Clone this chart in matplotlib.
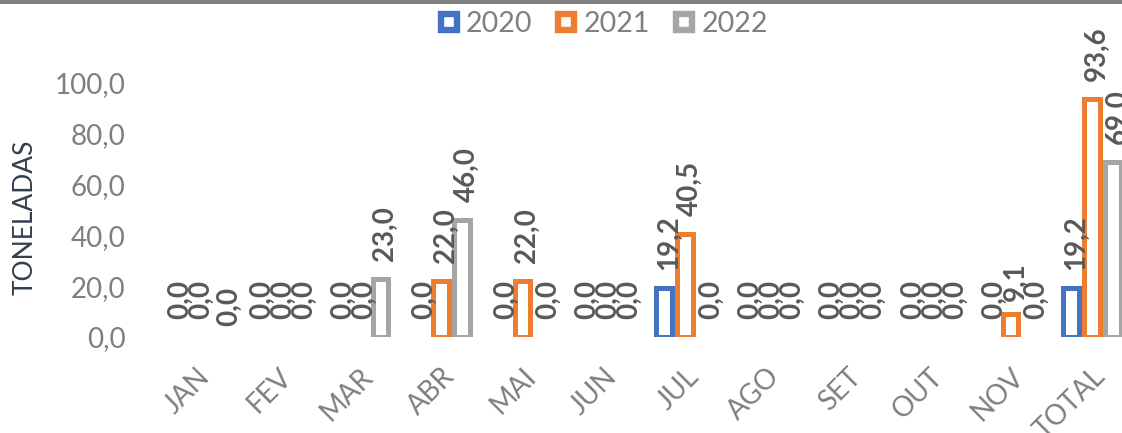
import matplotlib
matplotlib.use("Agg")
import matplotlib.pyplot as plt
from matplotlib.lines import Line2D
from matplotlib.patches import Rectangle
from matplotlib.ticker import FuncFormatter
import numpy as np

plt.rcParams['font.family'] = ['Lato', 'DejaVu Sans']

# data (tonnes per month)
months = ['JAN', 'FEV', 'MAR', 'ABR', 'MAI', 'JUN', 'JUL', 'AGO', 'SET', 'OUT', 'NOV', 'TOTAL']
years = ['2020', '2021', '2022']
t2020 = [0, 0, 0, 0, 0, 0, 19.2, 0, 0, 0, 0, 19.2]
t2021 = [0, 0, 0, 22.0, 22.0, 0, 40.5, 0, 0, 0, 9.1, 93.6]
t2022 = [0, 0, 23.0, 46.0, 0, 0, 0, 0, 0, 0, 0, 69.0]
yticks = [0, 20, 40, 60, 80, 100]

colors = ['#4472C4', '#ED7D31', '#A5A5A5']
label_col = '#595959'
tick_col = '#7F7F7F'

def fmt(v):
    return f"{v:.1f}".replace('.', ',')

fig = plt.figure(figsize=(11.22, 4.33), dpi=100)
ax = fig.add_axes([156 / 1122, 96 / 433, 966 / 1122, 254 / 433])

x = np.arange(len(months))
pitch = 0.258
bw = 0.19
series = [t2020, t2021, t2022]

# Excel moved a couple of overlapping labels a bit (points)
nudge = {(0, 2): (5, -5), (10, 1): (0, -4)}

for i, vals in enumerate(series):
    off = (i - 1) * pitch
    # zero-height bars get no outline, like in Excel
    edges = [colors[i] if v > 0 else 'none' for v in vals]
    ax.bar(x + off, vals, bw, facecolor='white', edgecolor=edges,
           linewidth=3.6, zorder=2)
    for j, v in enumerate(vals):
        dx, dy = nudge.get((j, i), (0, 0))
        ax.annotate(fmt(v), xy=(x[j] + off, v), xytext=(1.5 + dx, 13 + dy),
                    textcoords='offset points', rotation=90, rotation_mode='anchor',
                    ha='left', va='center_baseline', fontsize=20, fontweight='bold',
                    color=label_col, annotation_clip=False)

ax.set_xlim(-0.5, -0.5 + 966 / 81.4)
ax.set_ylim(0, 100)
ax.set_yticks(yticks)
ax.yaxis.set_major_formatter(FuncFormatter(lambda v, p: fmt(v)))
ax.set_xticks(x)
ax.set_xticklabels(months)
for s in ax.spines.values():
    s.set_visible(False)
ax.tick_params(axis='y', length=0, pad=22, labelsize=20, labelcolor=tick_col)
ax.tick_params(axis='x', length=0, pad=19, labelsize=20, labelcolor=tick_col)

for lbl in ax.get_xticklabels():
    lbl.set_rotation(45)
    lbl.set_rotation_mode('anchor')
    lbl.set_ha('right')
    lbl.set_va('top')

fig.text(25 / 1122, 1 - 217 / 433, 'TONELADAS', rotation=90, ha='center', va='center',
         fontsize=19, color='#323F4F')

handles = [Line2D([], [], linestyle='none', marker='s', markersize=11.5,
                  markerfacecolor='white', markeredgecolor=c, markeredgewidth=4.6)
           for c in colors]
fig.legend(handles, years, loc='center', bbox_to_anchor=(0.537, 1 - 24 / 433), ncol=3,
           frameon=False, fontsize=20.5, labelcolor=tick_col, handlelength=0.8,
           handletextpad=0.2, columnspacing=0.8, borderpad=0, borderaxespad=0)

# grey rule along the top edge
fig.add_artist(Rectangle((0, 1 - 4 / 433), 1, 4 / 433, transform=fig.transFigure,
                         facecolor='#808080', edgecolor='none'))

fig.savefig('out.png', dpi=100)
